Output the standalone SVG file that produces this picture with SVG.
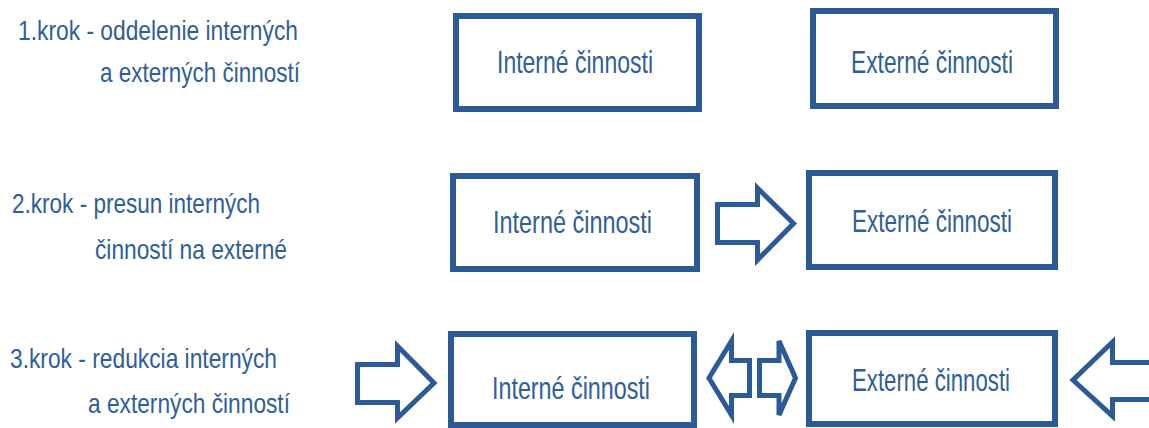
<svg xmlns="http://www.w3.org/2000/svg" width="1149" height="428" viewBox="0 0 1149 428">
<style>
.bg{fill:#ffffff}
.box{fill:#ffffff;stroke:#2B5A96;stroke-width:6}
.arr{fill:#ffffff;stroke:#2B5A96;stroke-width:5;stroke-linejoin:miter}
.bt{font-family:"Liberation Sans",Arial,sans-serif;font-size:32px;fill:#2F5E9A}
.lt{font-family:"Liberation Sans",Arial,sans-serif;font-size:28px;fill:#2F5E9A}
</style>
<rect class="bg" x="0" y="0" width="1149" height="428"/>
<g id="label1">
<text class="lt" x="18" y="40" textLength="280" lengthAdjust="spacingAndGlyphs">1.krok - oddelenie interných</text>
<text class="lt" x="100" y="82" textLength="200" lengthAdjust="spacingAndGlyphs">a externých činností</text>
</g>
<g id="label2">
<text class="lt" x="12" y="213" textLength="248" lengthAdjust="spacingAndGlyphs">2.krok - presun interných</text>
<text class="lt" x="95" y="259" textLength="192" lengthAdjust="spacingAndGlyphs">činností na externé</text>
</g>
<g id="label3">
<text class="lt" x="10" y="368" textLength="267" lengthAdjust="spacingAndGlyphs">3.krok - redukcia interných</text>
<text class="lt" x="88" y="413" textLength="202" lengthAdjust="spacingAndGlyphs">a externých činností</text>
</g>
<g id="int1">
<rect class="box" x="456" y="16" width="243" height="93"/>
<text class="bt" x="497" y="73" textLength="156" lengthAdjust="spacingAndGlyphs">Interné činnosti</text>
</g>
<g id="ext1">
<rect class="box" x="813" y="11" width="243" height="95"/>
<text class="bt" x="851" y="73" textLength="162" lengthAdjust="spacingAndGlyphs">Externé činnosti</text>
</g>
<g id="int2">
<rect class="box" x="453" y="176" width="244" height="93"/>
<text class="bt" x="493" y="233" textLength="159" lengthAdjust="spacingAndGlyphs">Interné činnosti</text>
</g>
<g id="ext2">
<rect class="box" x="809" y="173" width="246" height="94"/>
<text class="bt" x="852" y="232" textLength="160" lengthAdjust="spacingAndGlyphs">Externé činnosti</text>
</g>
<g id="int3">
<rect class="box" x="451" y="334" width="243" height="91"/>
<text class="bt" x="492" y="399" textLength="158" lengthAdjust="spacingAndGlyphs">Interné činnosti</text>
</g>
<g id="ext3">
<rect class="box" x="809" y="333" width="246" height="91"/>
<text class="bt" x="852" y="391" textLength="158" lengthAdjust="spacingAndGlyphs">Externé činnosti</text>
</g>
<g id="connectors">
<polygon class="arr" points="717.5,204.5 757.5,204.5 757.5,188 793.5,223.5 757.5,260 757.5,242.5 717.5,242.5"/>
<polygon class="arr" points="357.5,364.5 397.5,364.5 397.5,346 434,383 397.5,418 397.5,402.5 357.5,402.5"/>
<polygon class="arr" points="709,378 731.5,341 731.5,360.5 749.5,360.5 749.5,395.5 731.5,395.5 731.5,415"/>
<polygon class="arr" points="759.5,360.5 779,360.5 779,341 795.5,378 779,415 779,395.5 759.5,395.5"/>
<polygon class="arr" points="1073,380 1112.5,342 1112.5,362.5 1152,362.5 1152,399.5 1112.5,399.5 1112.5,416"/>
</g>
</svg>
